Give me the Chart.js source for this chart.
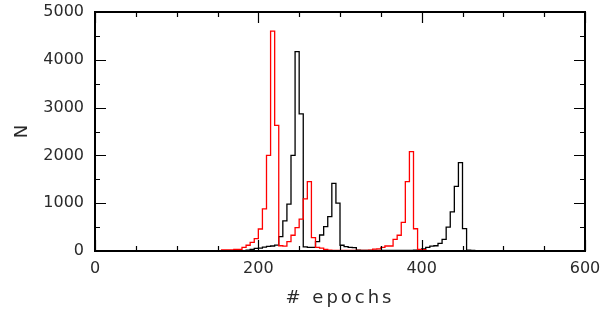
<!DOCTYPE html>
<html>
<head>
<meta charset="utf-8">
<title>epochs histogram</title>
<script src="https://cdn.jsdelivr.net/npm/chart.js@4.4.0/dist/chart.umd.min.js"></script>
<style>
  html, body { margin: 0; padding: 0; background: #fff; }
  #wrap { width: 613px; height: 313px; }
</style>
</head>
<body>
<div id="wrap"><canvas id="histchart" width="613" height="313"></canvas></div>
<script>
// histogram bins (left edge, in epochs), all 5 wide
var binWidth = 5;
var binLeft = [150, 155, 160, 165, 170, 175, 180, 185, 190, 195,
               200, 205, 210, 215, 220, 225, 230, 235, 240, 245,
               250, 255, 260, 265, 270, 275, 280, 285, 290, 295,
               300, 305, 310, 315, 320, 325, 330, 335, 340, 345,
               350, 355, 360, 365, 370, 375, 380, 385, 390, 395,
               400, 405, 410, 415, 420, 425, 430, 435, 440, 445,
               450, 455, 460, 465, 470];

// counts
var redCounts = [0, 25, 25, 25, 35, 35, 77, 120, 180, 260,
                 460, 880, 2000, 4600, 2630, 110, 100, 195, 330, 490,
                 665, 1090, 1450, 280, 75, 60, 35, 20, 15, 15,
                 15, 10, 10, 10, 10, 10, 15, 20, 40, 45,
                 77, 105, 105, 245, 330, 600, 1450, 2080, 465, 35,
                 30, 0, 0, 0, 0, 0, 0, 0, 0, 0,
                 0, 0, 0, 0, 0];

var blackCounts = [0, 0, 0, 0, 0, 0, 0, 20, 35, 55,
                   60, 80, 95, 105, 125, 300, 630, 980, 2000, 4170,
                   2870, 85, 75, 75, 195, 335, 510, 720, 1416, 1000,
                   120, 90, 75, 70, 20, 15, 15, 15, 15, 15,
                   15, 15, 15, 15, 15, 15, 15, 15, 20, 30,
                   45, 77, 100, 110, 160, 245, 500, 820, 1350, 1850,
                   470, 20, 10, 5, 0];

var xTickValues = [0, 200, 400, 600];
var yTickValues = [0, 1000, 2000, 3000, 4000, 5000];

// turn bins into step outline vertices
function histPoints(counts) {
    var pts = [];
    for (var i = 0; i < binLeft.length; i++) {
        pts.push({x: binLeft[i], y: counts[i]});
        pts.push({x: binLeft[i] + binWidth, y: counts[i]});
    }
    return pts;
}

// box round the plot with inward ticks on all four sides
var frameTicks = {
    id: 'frameTicks',
    beforeDraw: function(chart) {
        var sx = chart.scales.x;
        if (!sx._spaced) {
            var orig = sx.drawTitle;
            sx.drawTitle = function() {
                this.ctx.save();
                this.ctx.letterSpacing = '3px';
                orig.apply(this, arguments);
                this.ctx.restore();
            };
            sx._spaced = true;
        }
    },
    afterDraw: function(chart) {
        var ctx = chart.ctx;
        var a = chart.chartArea;
        var xs = chart.scales.x;
        var ys = chart.scales.y;
        ctx.save();
        ctx.strokeStyle = '#000';
        ctx.lineWidth = 1.2;
        ctx.beginPath();
        for (var v = 0; v <= 600; v += 50) {
            var len = (v % 200 === 0) ? 11 : 5;
            var px = Math.round(xs.getPixelForValue(v)) + 0.5;
            ctx.moveTo(px, a.bottom); ctx.lineTo(px, a.bottom - len);
            ctx.moveTo(px, a.top); ctx.lineTo(px, a.top + len);
        }
        for (var w = 0; w <= 5000; w += 500) {
            var len2 = (w % 1000 === 0) ? 11 : 5;
            var py = Math.round(ys.getPixelForValue(w)) + 0.5;
            ctx.moveTo(a.left, py); ctx.lineTo(a.left + len2, py);
            ctx.moveTo(a.right, py); ctx.lineTo(a.right - len2, py);
        }
        ctx.stroke();
        ctx.lineWidth = 2;
        ctx.strokeRect(a.left, a.top, a.right - a.left, a.bottom - a.top);
        ctx.restore();
    }
};

var labelFont = {family: 'DejaVu Sans', size: 16};
var textColour = '#2a2a2a';

var ctx = document.getElementById('histchart').getContext('2d');
var histChart = new Chart(ctx, {
    type: 'line',
    data: {
        datasets: [
            {label: 'red', data: histPoints(redCounts), borderColor: '#ff0000', borderWidth: 1.3,
             pointRadius: 0, tension: 0, fill: false},
            {label: 'black', data: histPoints(blackCounts), borderColor: '#000000', borderWidth: 1.3,
             pointRadius: 0, tension: 0, fill: false}
        ]
    },
    options: {
        responsive: false,
        animation: false,
        devicePixelRatio: 1,
        layout: {padding: {left: 0, right: 28, top: 12, bottom: 0}},
        plugins: {legend: {display: false}, tooltip: {enabled: false}},
        scales: {
            x: {
                type: 'linear', min: 0, max: 600,
                afterBuildTicks: function(scale) {
                    scale.ticks = xTickValues.map(function(v) { return {value: v}; });
                },
                afterFit: function(scale) {
                    scale.height = 62;
                    scale.paddingLeft = 0;
                    scale.paddingRight = 0;
                },
                grid: {display: false, drawTicks: false},
                border: {display: false},
                ticks: {font: labelFont, color: textColour, padding: 8, maxRotation: 0,
                        callback: function(v) { return String(v); }},
                title: {display: true, text: '# epochs', color: textColour,
                        font: {family: 'DejaVu Sans', size: 18},
                        padding: {top: 0, bottom: 4}}
            },
            y: {
                type: 'linear', min: 0, max: 5000,
                afterBuildTicks: function(scale) {
                    scale.ticks = yTickValues.map(function(v) { return {value: v}; });
                },
                afterFit: function(scale) {
                    scale.width = 95;
                    scale.paddingTop = 0;
                    scale.paddingBottom = 0;
                },
                grid: {display: false, drawTicks: false},
                border: {display: false},
                ticks: {font: labelFont, color: textColour, padding: 11,
                        callback: function(v) { return String(v); }},
                title: {display: true, text: 'N', color: textColour,
                        font: {family: 'DejaVu Sans', size: 18},
                        padding: {top: 12, bottom: 0}}
            }
        }
    },
    plugins: [frameTicks]
});
</script>
</body>
</html>
